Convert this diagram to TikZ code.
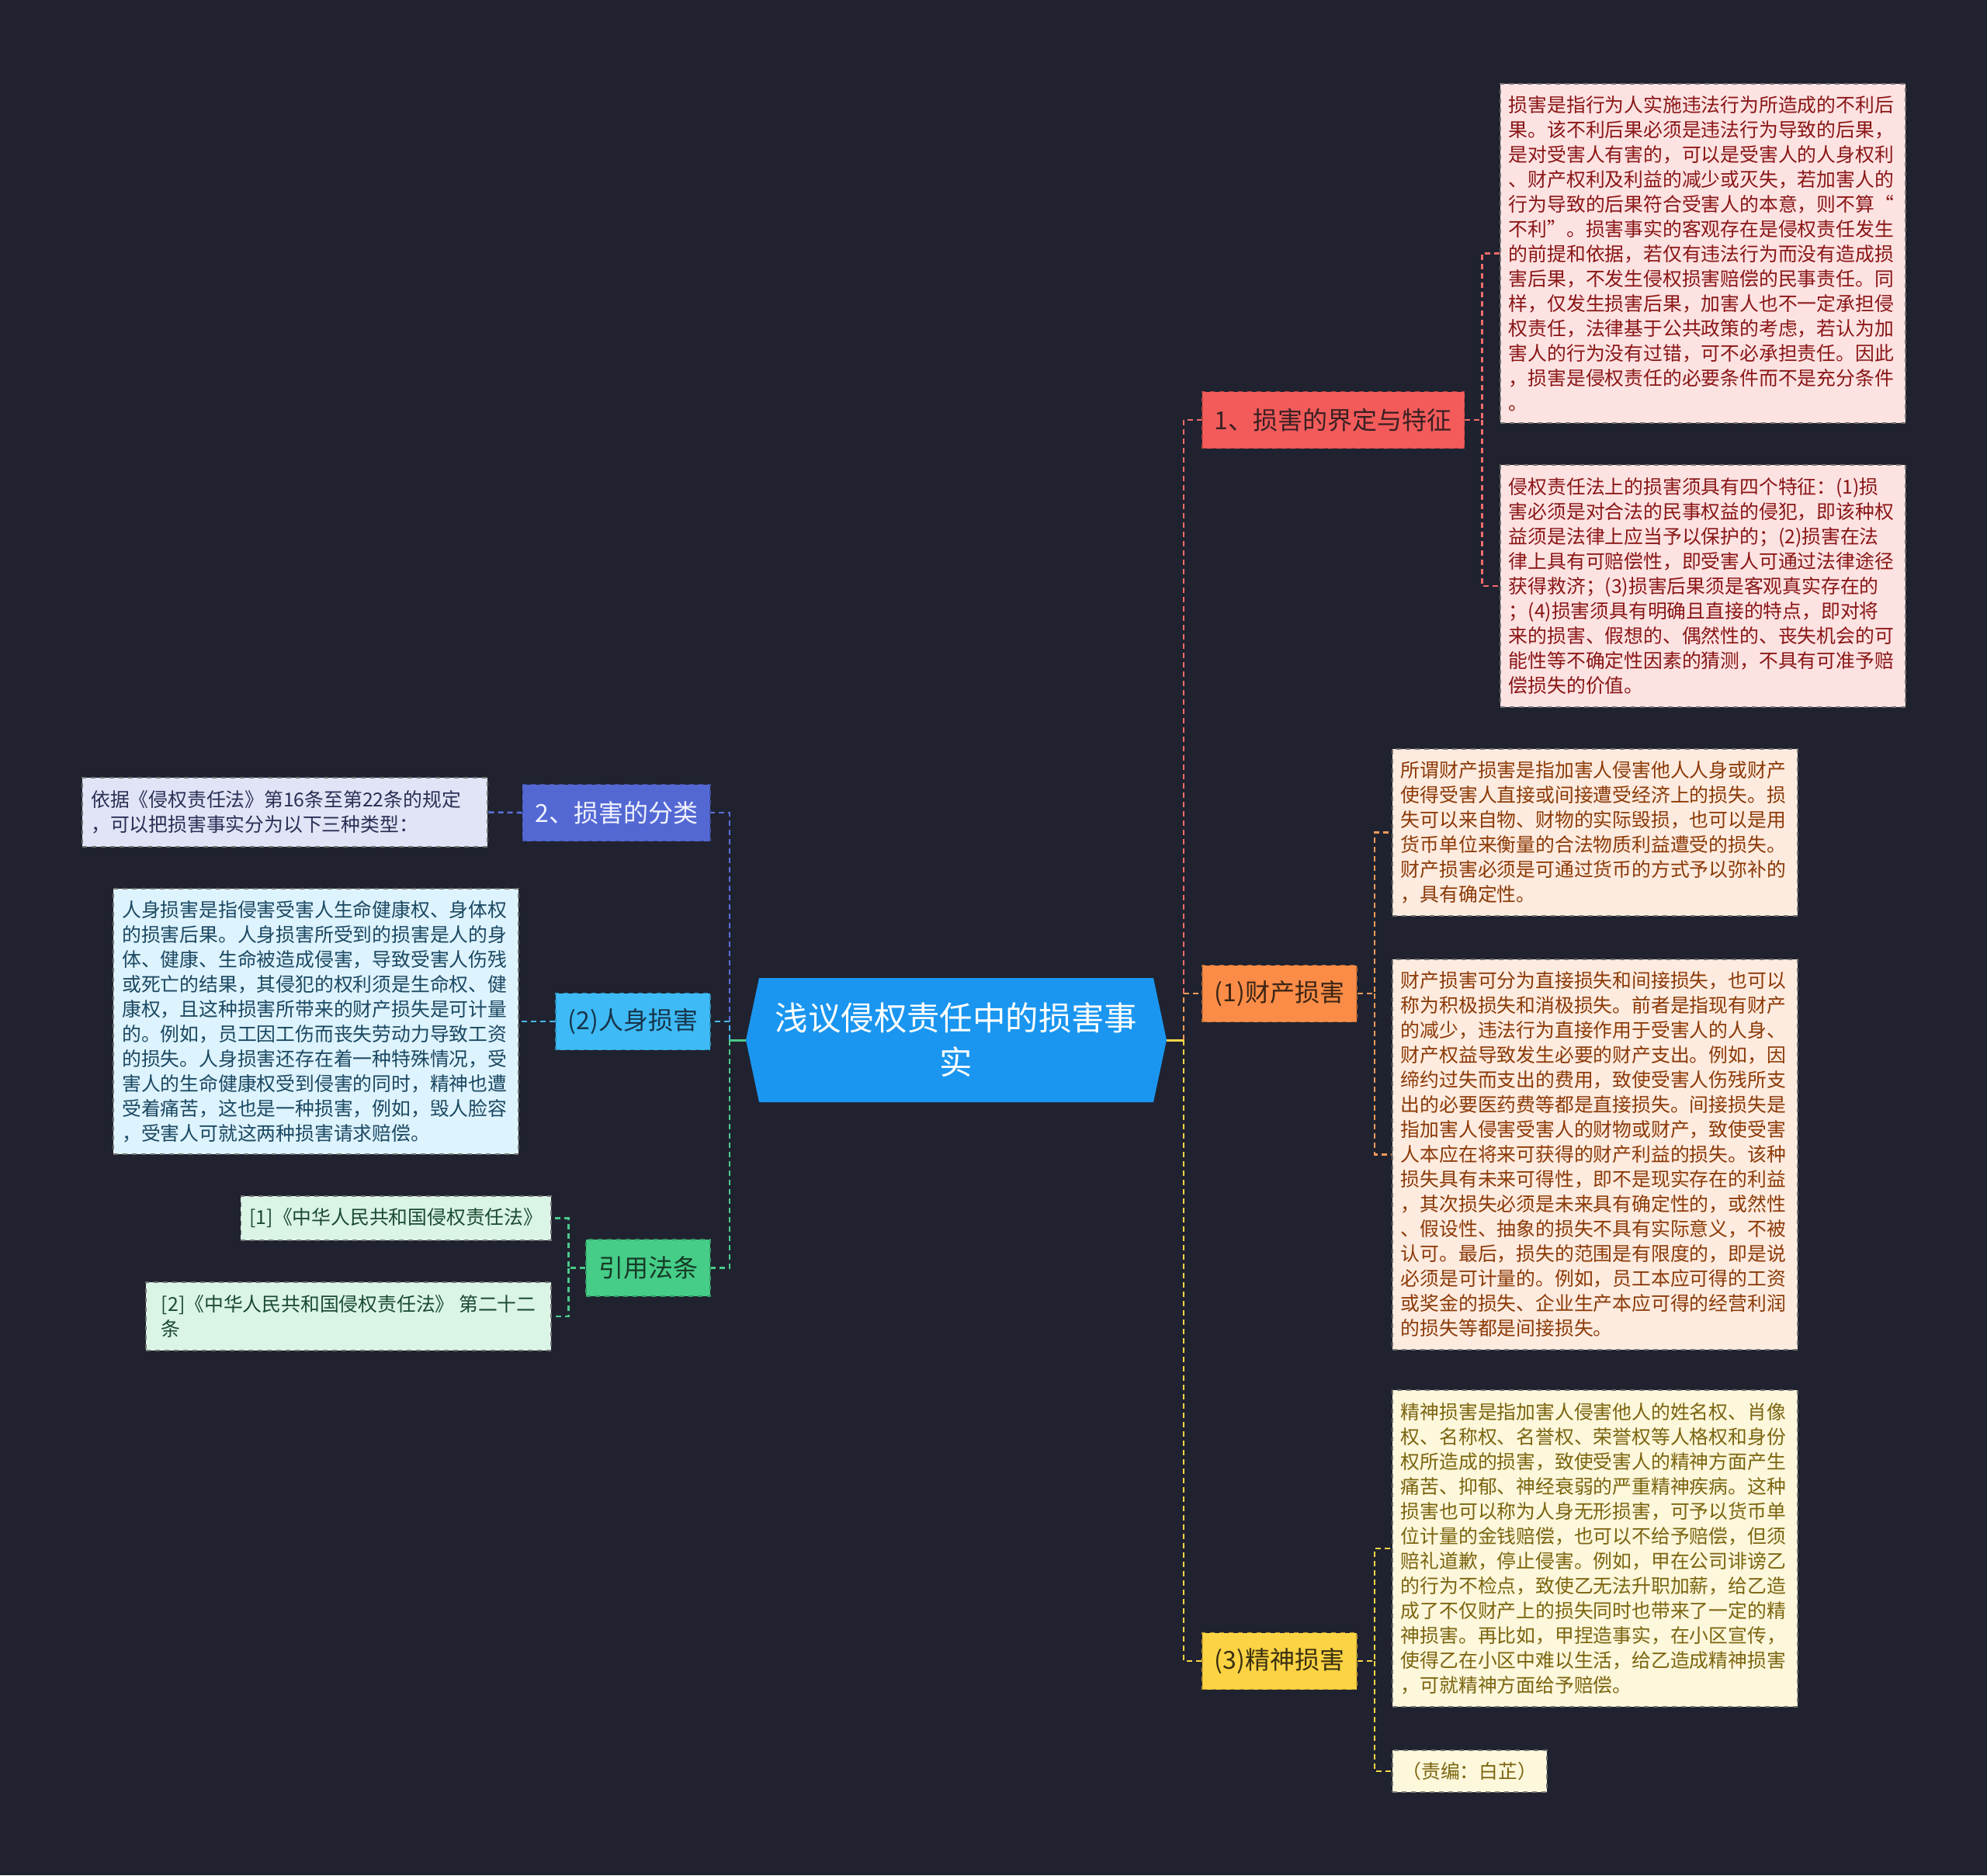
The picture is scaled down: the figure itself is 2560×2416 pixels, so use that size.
\documentclass[tikz,border=0pt]{standalone}
\usepackage{fontspec}
\setmainfont{Noto Sans CJK SC}
\usetikzlibrary{shapes.symbols}
\definecolor{bgdark}{HTML}{20232F}
\definecolor{rootblue}{HTML}{1A96F0}
\definecolor{redb}{HTML}{F35B5B}\definecolor{redt}{HTML}{3A2022}\definecolor{redf}{HTML}{FDE2E2}\definecolor{redw}{HTML}{8A1616}\definecolor{redl}{HTML}{F26B6B}
\definecolor{orab}{HTML}{FB8C47}\definecolor{orat}{HTML}{3A2414}\definecolor{oraf}{HTML}{FEEBDF}\definecolor{oraw}{HTML}{8B3A08}\definecolor{oral}{HTML}{F59A5B}
\definecolor{yelb}{HTML}{FCD343}\definecolor{yelt}{HTML}{3A3010}\definecolor{yelf}{HTML}{FDF7DB}\definecolor{yelw}{HTML}{7B6510}\definecolor{yell}{HTML}{F9D548}
\definecolor{viob}{HTML}{5468D4}\definecolor{viot}{HTML}{F0F2FF}\definecolor{viof}{HTML}{E1E4F6}\definecolor{viow}{HTML}{2B2F55}\definecolor{viol}{HTML}{5A6FD8}
\definecolor{skyb}{HTML}{3EBBF6}\definecolor{skyt}{HTML}{16344A}\definecolor{skyf}{HTML}{DDF3FD}\definecolor{skyw}{HTML}{1B4862}\definecolor{skyl}{HTML}{49B9F0}
\definecolor{grnb}{HTML}{46CD88}\definecolor{grnt}{HTML}{163A26}\definecolor{grnf}{HTML}{DAF4E6}\definecolor{grnw}{HTML}{1B4A32}\definecolor{grnl}{HTML}{4CC98A}
\tikzset{
  rootnode/.style={signal, signal to=west and east, signal pointer angle=156, fill=rootblue, text=white,
    minimum width=271pt, minimum height=80pt, align=center, font=\fontsize{21.2}{28.6}\selectfont},
  branch/.style={draw=#1!75!black, fill=#1, dashed, line width=0.8pt, minimum height=36.5pt, inner xsep=8pt,
    font=\fontsize{16}{16}\selectfont},
  card/.style={draw=black!55, fill=#1, dashed, line width=0.8pt, inner xsep=5.5pt, inner ysep=5pt, align=left,
    font=\fontsize{12.4}{16}\selectfont},
  leaf/.style={card=#1, text width=250pt},
  link/.style={draw=#1, line width=1.5pt},
  twig/.style={draw=#1, line width=1.3pt, dash pattern=on 3.5pt off 2.5pt}
}
\begin{document}
\begin{tikzpicture}[x=0.5pt,y=-0.5pt]
\fill[bgdark] (0,0) rectangle (2560,2416);
\node[rootnode] (root) at (1232,1340) {浅议侵权责任中的损害事\\实};
\coordinate (jl) at (940,1340);
\coordinate (jr) at (1525,1340);

\node[branch=redb, text=redt, anchor=west] (b1) at (1548,541) {1、损害的界定与特征};
\node[branch=orab, text=orat, anchor=west] (b2) at (1548,1280) {(1)财产损害};
\node[branch=yelb, text=yelt, anchor=west] (b3) at (1548,2140) {(3)精神损害};
\node[branch=viob, text=viot, anchor=east] (b4) at (916,1047) {2、损害的分类};
\node[branch=skyb, text=skyt, anchor=east] (b5) at (916,1316) {(2)人身损害};
\node[branch=grnb, text=grnt, anchor=east] (b6) at (916,1633.5) {引用法条};

\node[leaf=redf, text=redw, minimum height=218.5pt, anchor=west] (r1) at (1932,326.5) {损害是指行为人实施违法行为所造成的不利后\\果。该不利后果必须是违法行为导致的后果，\\是对受害人有害的，可以是受害人的人身权利\\、财产权利及利益的减少或灭失，若加害人的\\行为导致的后果符合受害人的本意，则不算“\\不利”。损害事实的客观存在是侵权责任发生\\的前提和依据，若仅有违法行为而没有造成损\\害后果，不发生侵权损害赔偿的民事责任。同\\样，仅发生损害后果，加害人也不一定承担侵\\权责任，法律基于公共政策的考虑，若认为加\\害人的行为没有过错，可不必承担责任。因此\\，损害是侵权责任的必要条件而不是充分条件\\。};
\node[leaf=redf, text=redw, minimum height=156pt, anchor=west] (r2) at (1932,755) {侵权责任法上的损害须具有四个特征：(1)损\\害必须是对合法的民事权益的侵犯，即该种权\\益须是法律上应当予以保护的；(2)损害在法\\律上具有可赔偿性，即受害人可通过法律途径\\获得救济；(3)损害后果须是客观真实存在的\\；(4)损害须具有明确且直接的特点，即对将\\来的损害、假想的、偶然性的、丧失机会的可\\能性等不确定性因素的猜测，不具有可准予赔\\偿损失的价值。};
\node[leaf=oraf, text=oraw, minimum height=107.5pt, anchor=west] (o1) at (1793,1072.5) {所谓财产损害是指加害人侵害他人人身或财产\\使得受害人直接或间接遭受经济上的损失。损\\失可以来自物、财物的实际毁损，也可以是用\\货币单位来衡量的合法物质利益遭受的损失。\\财产损害必须是可通过货币的方式予以弥补的\\，具有确定性。};
\node[leaf=oraf, text=oraw, minimum height=251.5pt, anchor=west] (o2) at (1793,1487.5) {财产损害可分为直接损失和间接损失，也可以\\称为积极损失和消极损失。前者是指现有财产\\的减少，违法行为直接作用于受害人的人身、\\财产权益导致发生必要的财产支出。例如，因\\缔约过失而支出的费用，致使受害人伤残所支\\出的必要医药费等都是直接损失。间接损失是\\指加害人侵害受害人的财物或财产，致使受害\\人本应在将来可获得的财产利益的损失。该种\\损失具有未来可得性，即不是现实存在的利益\\，其次损失必须是未来具有确定性的，或然性\\、假设性、抽象的损失不具有实际意义，不被\\认可。最后，损失的范围是有限度的，即是说\\必须是可计量的。例如，员工本应可得的工资\\或奖金的损失、企业生产本应可得的经营利润\\的损失等都是间接损失。};
\node[leaf=yelf, text=yelw, minimum height=204pt, anchor=west] (y1) at (1793,1995) {精神损害是指加害人侵害他人的姓名权、肖像\\权、名称权、名誉权、荣誉权等人格权和身份\\权所造成的损害，致使受害人的精神方面产生\\痛苦、抑郁、神经衰弱的严重精神疾病。这种\\损害也可以称为人身无形损害，可予以货币单\\位计量的金钱赔偿，也可以不给予赔偿，但须\\赔礼道歉，停止侵害。例如，甲在公司诽谤乙\\的行为不检点，致使乙无法升职加薪，给乙造\\成了不仅财产上的损失同时也带来了一定的精\\神损害。再比如，甲捏造事实，在小区宣传，\\使得乙在小区中难以生活，给乙造成精神损害\\，可就精神方面给予赔偿。};
\node[card=yelf, text=yelw, minimum width=99.5pt, minimum height=27pt, align=center, anchor=west] (y2) at (1793,2282) {（责编：白芷）};

\node[leaf=viof, text=viow, minimum height=44.5pt, anchor=east] (v1) at (629,1046.5) {依据《侵权责任法》第16条至第22条的规定\\，可以把损害事实分为以下三种类型：};
\node[leaf=skyf, text=skyw, minimum height=171pt, anchor=east] (c1) at (669,1316) {人身损害是指侵害受害人生命健康权、身体权\\的损害后果。人身损害所受到的损害是人的身\\体、健康、生命被造成侵害，导致受害人伤残\\或死亡的结果，其侵犯的权利须是生命权、健\\康权，且这种损害所带来的财产损失是可计量\\的。例如，员工因工伤而丧失劳动力导致工资\\的损失。人身损害还存在着一种特殊情况，受\\害人的生命健康权受到侵害的同时，精神也遭\\受着痛苦，这也是一种损害，例如，毁人脸容\\，受害人可就这两种损害请求赔偿。};
\node[card=grnf, text=grnw, minimum height=28.5pt, anchor=east] (g1) at (711,1569.5) {[1]《中华人民共和国侵权责任法》};
\node[card=grnf, text=grnw, minimum width=261pt, minimum height=44pt, anchor=east] (g2) at (711,1696) {[2]《中华人民共和国侵权责任法》~第二十二\\条};

\draw[link=viol] (root.west) -- (jl); \draw[twig=viol] (jl) |- (b4.east);
\draw[link=skyl] (root.west) -- (jl); \draw[twig=skyl] (jl) |- (b5.east);
\draw[link=grnl] (root.west) -- (jl); \draw[twig=grnl] (jl) |- (b6.east);
\draw[link=redl] (root.east) -- (jr); \draw[twig=redl] (jr) |- (b1.west);
\draw[link=oral] (root.east) -- (jr); \draw[twig=oral] (jr) |- (b2.west);
\draw[link=yell] (root.east) -- (jr); \draw[twig=yell] (jr) |- (b3.west);

\draw[twig=redl] (b1.east) -- ++(11pt,0) coordinate (k1) |- (r1.west);
\draw[twig=redl] (k1) |- (r2.west);
\draw[twig=oral] (b2.east) -- ++(11pt,0) coordinate (k2) |- (o1.west);
\draw[twig=oral] (k2) |- (o2.west);
\draw[twig=yell] (b3.east) -- ++(11pt,0) coordinate (k3) |- (y1.west);
\draw[twig=yell] (k3) |- (y2.west);
\draw[twig=viol] (b4.west) -- (v1.east);
\draw[twig=skyl] (b5.west) -- (c1.east);
\draw[twig=grnl] (b6.west) -- ++(-11pt,0) coordinate (k6) |- (g1.east);
\draw[twig=grnl] (k6) |- (g2.east);
\end{tikzpicture}
\end{document}
